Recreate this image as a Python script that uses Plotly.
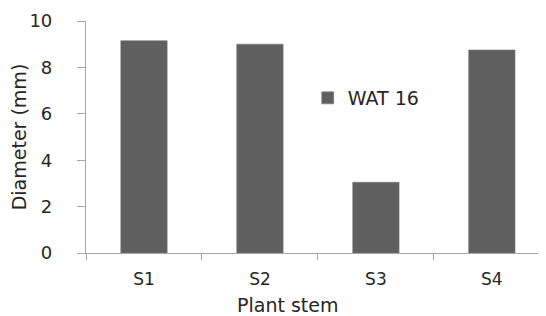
import plotly.graph_objects as go

categories = ["S1", "S2", "S3", "S4"]
diameter_mm = [9.15, 9.0, 3.05, 8.75]
series_name = "WAT 16"
y_ticks = [0, 2, 4, 6, 8, 10]
x_title = "Plant stem"
y_title = "Diameter (mm)"

font_family = "DejaVu Sans"
axis_color = "#a6a6a6"
text_color = "#262626"

fig = go.Figure()
fig.add_trace(go.Bar(
    x=categories, y=diameter_mm, name=series_name,
    marker=dict(color="#5f5f5f", line=dict(color="#7a7a7a", width=0.6)),
    showlegend=True,
))

# page body has an 8px default margin, so the figure is offset by (8, 8)
fig.update_layout(
    width=538, height=308,
    margin=dict(l=78, r=0, t=13, b=63),
    paper_bgcolor="white", plot_bgcolor="white",
    bargap=0.6,
    font=dict(family=font_family, color=text_color, size=16),
    showlegend=True,
    legend=dict(x=0.482, y=0.668, xanchor="left", yanchor="middle",
                font=dict(size=19, family=font_family, color=text_color),
                bgcolor="rgba(0,0,0,0)"),
    annotations=[dict(text=x_title, xref="paper", yref="paper", x=0.4385, y=-0.222,
                      xanchor="center", yanchor="middle", showarrow=False,
                      font=dict(size=19, family=font_family, color=text_color))],
)
fig.update_xaxes(
    range=[-0.5, 3.467], showline=True, linecolor=axis_color, linewidth=1.2,
    ticks="outside", tickson="boundaries", ticklen=6, tickcolor=axis_color,
    showgrid=False, zeroline=False, automargin=False,
    tickfont=dict(size=17), ticklabelstandoff=10,
)
fig.update_yaxes(
    range=[0, 10], tickvals=y_ticks, showline=True, linecolor=axis_color, linewidth=1.2,
    ticks="outside", ticklen=8, tickcolor=axis_color,
    showgrid=False, zeroline=False, automargin=False,
    tickfont=dict(size=18), ticklabelstandoff=21,
    title=dict(text=y_title, font=dict(size=19), standoff=0),
)

fig.write_html("out.html")
